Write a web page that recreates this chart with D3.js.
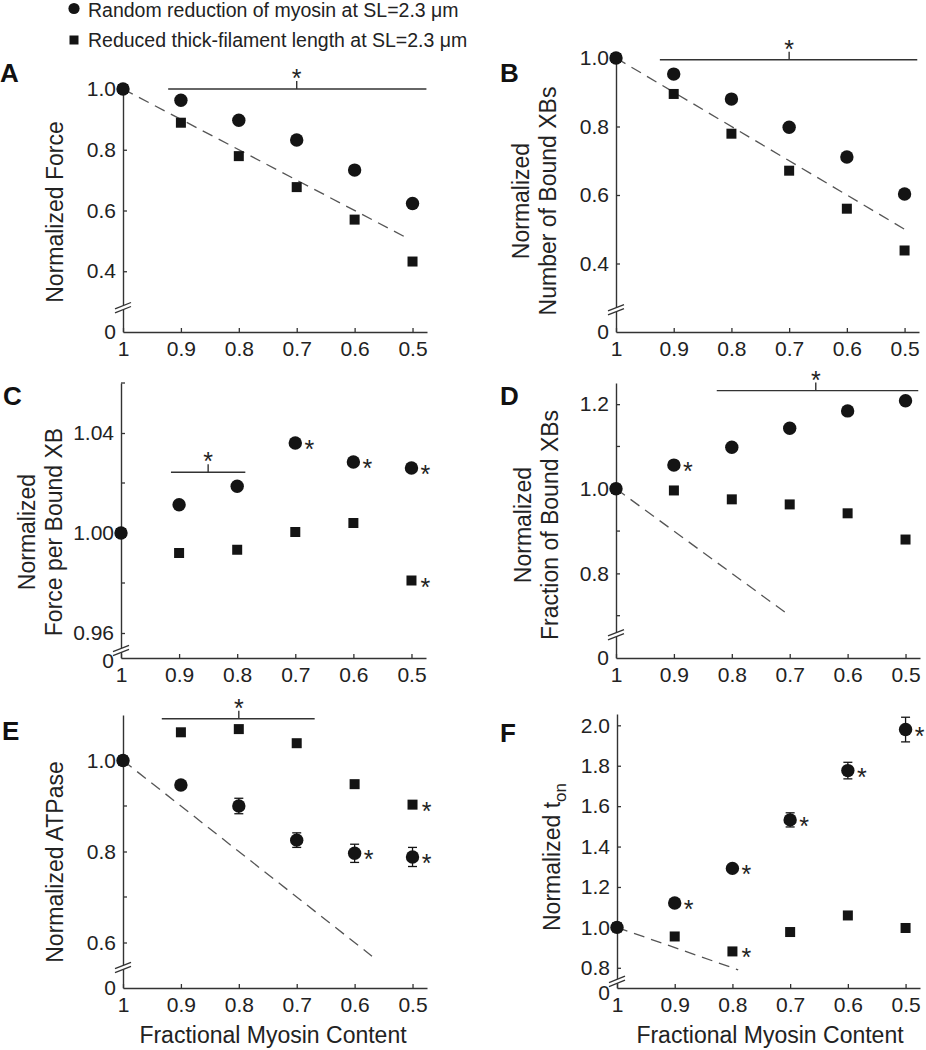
<!DOCTYPE html>
<html>
<head>
<meta charset="utf-8">
<script src="https://cdn.jsdelivr.net/npm/d3@7"></script>
<style>
  html, body { margin: 0; padding: 0; background: #fff; }
  svg { display: block; font-family: "Liberation Sans", Arial, Helvetica, sans-serif; }
</style>
</head>
<body>
<script>
// ---------------- DATA ----------------
const fractionalMyosin = [1, 0.9, 0.8, 0.7, 0.6, 0.5];
const xTickLabels = ["1", "0.9", "0.8", "0.7", "0.6", "0.5"];

const seriesNames = [
  "Random reduction of myosin at SL=2.3 \u03bcm",
  "Reduced thick-filament length at SL=2.3 \u03bcm"
];

// A: Normalized Force
const forceRandom  = [1.0, 0.963, 0.897, 0.832, 0.733, 0.623];
const forceReduced = [1.0, 0.889, 0.779, 0.677, 0.570, 0.432];
// B: Normalized Number of Bound XBs
const boundRandom  = [1.0, 0.953, 0.880, 0.798, 0.711, 0.603];
const boundReduced = [1.0, 0.895, 0.779, 0.671, 0.560, 0.438];
// C: Normalized Force per Bound XB
const forcePerXBRandom  = [1.0, 1.0113, 1.0187, 1.0360, 1.0284, 1.0260];
const forcePerXBReduced = [1.0, 0.9920, 0.9933, 1.0004, 1.0040, 0.9810];
// D: Normalized Fraction of Bound XBs
const fractionRandom  = [1.0, 1.056, 1.098, 1.143, 1.184, 1.208];
const fractionReduced = [1.0, 0.996, 0.975, 0.963, 0.942, 0.880];
// E: Normalized ATPase
const atpaseRandom    = [1.0, 0.946, 0.900, 0.825, 0.796, 0.788];
const atpaseRandomErr = [0, 0.004, 0.017, 0.016, 0.020, 0.021];
const atpaseReduced   = [1.0, 1.062, 1.069, 1.038, 0.948, 0.903];
// F: Normalized t_on
const tonRandom    = [1.0, 1.121, 1.292, 1.532, 1.776, 1.979];
const tonRandomErr = [0, 0.010, 0.010, 0.035, 0.041, 0.061];
const tonReduced   = [1.0, 0.955, 0.881, 0.977, 1.059, 0.997];

// y ticks
const ticksA = [0.4, 0.6, 0.8, 1.0];
const ticksB = [0.4, 0.6, 0.8, 1.0];
const ticksC = [0.96, 1.00, 1.04];
const minorC = [0.98, 1.02, 1.06];
const ticksD = [0.8, 1.0, 1.2];
const minorD = [0.7, 0.9, 1.1];
const ticksE = [0.6, 0.8, 1.0];
const minorE = [0.7, 0.9];
const ticksF = [0.8, 1.0, 1.2, 1.4, 1.6, 1.8, 2.0];

// proportional (y = x) reference line end points
const idealA = [1, 0.515];
const idealB = [1, 0.5];
const idealD = [1, 0.7];
const idealE = [1, 0.57];
const idealF = [1, 0.79];

// significance bars: [from x, to x, star x, y value]
const sigA = [0.922, 0.476, 0.7, 1.0];
const sigB = [0.924, 0.478, 0.7, 0.995];
const sigC = [0.914, 0.786, 0.85, 1.0243];
const sigD = [0.826, 0.478, 0.655, 1.232];
const sigE = [0.933, 0.669, 0.8, 1.0917];

// indices of points flagged with an individual asterisk
const starsCRandom = [3, 4, 5], starsCReduced = [5];
const starsDRandom = [1],       starsDReduced = [];
const starsERandom = [4, 5],    starsEReduced = [5];
const starsFRandom = [1, 2, 3, 4, 5], starsFReduced = [2];

// ---------------- PANELS (layout) ----------------
const panels = [
  { letter: "A", lx: 0, ly: 82, x0: 123, x1: 427, yb: 332, yt: 89, dom: [0.2, 1.0], brk: 0.28,
    ticks: ticksA, minor: [], fmt: ".1f", rnd: forceRandom, red: forceReduced,
    ideal: idealA, sig: sigA, sR: [], sQ: [], zOff: 0,
    label: ["Normalized Force"], labX: [63], labY: 212 },
  { letter: "B", lx: 500, ly: 82, x0: 616, x1: 919, yb: 332, yt: 58, dom: [0.2, 1.0], brk: 0.265,
    ticks: ticksB, minor: [], fmt: ".1f", rnd: boundRandom, red: boundReduced,
    ideal: idealB, sig: sigB, sR: [], sQ: [], zOff: 0,
    label: ["Normalized", "Number of Bound XBs"], labX: [529, 556], labY: 201 },
  { letter: "C", lx: 3, ly: 405, x0: 121, x1: 426, yb: 658, yt: 383, dom: [0.95, 1.06], brk: 0.953,
    ticks: ticksC, minor: minorC, fmt: ".2f", rnd: forcePerXBRandom, red: forcePerXBReduced,
    ideal: null, sig: sigC, sR: starsCRandom, sQ: starsCReduced, zOff: 3,
    label: ["Normalized", "Force per Bound XB"], labX: [35, 62], labY: 532 },
  { letter: "D", lx: 500, ly: 405, x0: 616, x1: 920, yb: 658, yt: 383, dom: [0.6, 1.25], brk: 0.655,
    ticks: ticksD, minor: minorD, fmt: ".1f", rnd: fractionRandom, red: fractionReduced,
    ideal: idealD, sig: sigD, sR: starsDRandom, sQ: starsDReduced, zOff: 0,
    label: ["Normalized", "Fraction of Bound XBs"], labX: [531, 558], labY: 525 },
  { letter: "E", lx: 2, ly: 740, x0: 123, x1: 427, yb: 988, yt: 715, dom: [0.5, 1.1], brk: 0.545,
    ticks: ticksE, minor: minorE, fmt: ".1f", rnd: atpaseRandom, err: atpaseRandomErr, red: atpaseReduced,
    ideal: idealE, sig: sigE, sR: starsERandom, sQ: starsEReduced, zOff: 0,
    label: ["Normalized ATPase"], labX: [63], labY: 862, xlab: 273 },
  { letter: "F", lx: 500, ly: 742, x0: 617, x1: 920, yb: 988, yt: 714, dom: [0.7, 2.056], brk: 0.733,
    ticks: ticksF, minor: [], fmt: ".1f", rnd: tonRandom, err: tonRandomErr, red: tonReduced,
    ideal: idealF, sig: null, sR: starsFRandom, sQ: starsFReduced, zOff: 5,
    label: ["ton"], labX: [560], labY: 857, xlab: 770, sub: true }
];

// ---------------- DRAW ----------------
const W = 926, H = 1050;
const ink = "#141414", axisCol = "#333", textCol = "#222";
const svg = d3.select("body").append("svg").attr("width", W).attr("height", H);

// legend
const leg = svg.append("g");
leg.append("circle").attr("cx", 74).attr("cy", 8.5).attr("r", 5.6).attr("fill", ink);
leg.append("rect").attr("x", 69.5).attr("y", 35.5).attr("width", 9).attr("height", 9).attr("fill", ink);
leg.selectAll("text.lg").data(seriesNames).join("text")
  .attr("x", 88).attr("y", (d, i) => 17 + i * 30)
  .attr("font-size", 19.5).attr("fill", textCol).text(d => d);

const starFS = 25, starDy = 0.56 * 25;

panels.forEach(p => {
  const g = svg.append("g");
  const x = d3.scaleLinear().domain([1, 0.475]).range([p.x0, p.x1]);
  const y = d3.scaleLinear().domain(p.dom).range([p.yb, p.yt]);

  // panel letter
  g.append("text").attr("x", p.lx).attr("y", p.ly).attr("font-size", 26)
    .attr("font-weight", "bold").attr("fill", "#111").text(p.letter);

  // x axis
  const xa = g.append("g").attr("transform", `translate(0,${p.yb})`)
    .call(d3.axisBottom(x).tickValues(fractionalMyosin)
      .tickFormat((d, i) => xTickLabels[i]).tickSize(-4).tickSizeOuter(0).tickPadding(9));
  // y axis
  const ya = g.append("g").attr("transform", `translate(${p.x0},0)`)
    .call(d3.axisLeft(y).tickValues(p.ticks).tickFormat(d3.format(p.fmt))
      .tickSize(-4).tickSizeOuter(0).tickPadding(7));
  [xa, ya].forEach(a => {
    a.select(".domain").attr("stroke", axisCol).attr("stroke-width", 1.4);
    a.selectAll(".tick line").attr("stroke", axisCol).attr("stroke-width", 1.3);
    a.selectAll(".tick text").attr("font-size", 21).attr("fill", textCol)
      .attr("font-family", "'Liberation Sans', Arial, sans-serif");
  });
  // minor ticks
  g.selectAll("line.minor").data(p.minor).join("line")
    .attr("x1", p.x0).attr("x2", p.x0 + 4).attr("y1", d => y(d)).attr("y2", d => y(d))
    .attr("stroke", axisCol).attr("stroke-width", 1.3);
  // zero label
  g.append("text").attr("x", p.x0 - 7).attr("y", p.yb + p.zOff).attr("dy", "0.32em")
    .attr("text-anchor", "end").attr("font-size", 21).attr("fill", textCol).text("0");
  // axis break
  const yb = y(p.brk);
  g.append("polygon")
    .attr("points", [[p.x0 - 7, yb + 5], [p.x0 + 7, yb - 1], [p.x0 + 7, yb - 5], [p.x0 - 7, yb + 1]].map(d => d.join(",")).join(" "))
    .attr("fill", "#fff");
  [-2, 2].forEach(o => {
    g.append("line").attr("x1", p.x0 - 8).attr("y1", yb + o + 3.2).attr("x2", p.x0 + 8).attr("y2", yb + o - 3.2)
      .attr("stroke", axisCol).attr("stroke-width", 1.3);
  });

  // y label
  const lab = g.append("g");
  if (p.sub) {
    const t = lab.append("text").attr("transform", `translate(${p.labX[0]},${p.labY}) rotate(-90)`)
      .attr("text-anchor", "middle").attr("font-size", 23).attr("fill", textCol);
    t.append("tspan").text("Normalized t");
    t.append("tspan").attr("dy", 6).attr("font-size", 17).text("on");
  } else {
    p.label.forEach((s, i) => {
      lab.append("text").attr("transform", `translate(${p.labX[i]},${p.labY}) rotate(-90)`)
        .attr("text-anchor", "middle").attr("font-size", 23).attr("fill", textCol).text(s);
    });
  }
  // x label
  if (p.xlab) {
    g.append("text").attr("x", p.xlab).attr("y", 1043).attr("text-anchor", "middle")
      .attr("font-size", 23).attr("fill", textCol).text("Fractional Myosin Content");
  }

  // ideal dashed line
  if (p.ideal) {
    g.append("line").attr("x1", x(p.ideal[0])).attr("y1", y(p.ideal[0]))
      .attr("x2", x(p.ideal[1])).attr("y2", y(p.ideal[1]))
      .attr("stroke", "#555").attr("stroke-width", 1.3).attr("stroke-dasharray", "11,7");
  }

  // significance bar
  if (p.sig) {
    const [a, b, c, v] = p.sig;
    g.append("line").attr("x1", x(a)).attr("x2", x(b)).attr("y1", y(v)).attr("y2", y(v))
      .attr("stroke", axisCol).attr("stroke-width", 1.4);
    g.append("line").attr("x1", x(c)).attr("x2", x(c)).attr("y1", y(v)).attr("y2", y(v) - 8)
      .attr("stroke", axisCol).attr("stroke-width", 1.4);
    g.append("text").attr("x", x(c)).attr("y", y(v) - 16 + starDy).attr("text-anchor", "middle")
      .attr("font-size", starFS).attr("fill", textCol).text("*");
  }

  // error bars
  if (p.err) {
    const eb = fractionalMyosin.map((f, i) => ({ f, v: p.rnd[i], e: p.err[i] })).filter(d => d.e > 0);
    eb.forEach(d => {
      g.append("line").attr("x1", x(d.f)).attr("x2", x(d.f)).attr("y1", y(d.v - d.e)).attr("y2", y(d.v + d.e))
        .attr("stroke", ink).attr("stroke-width", 1.3);
      [d.v - d.e, d.v + d.e].forEach(yy => {
        g.append("line").attr("x1", x(d.f) - 4.5).attr("x2", x(d.f) + 4.5).attr("y1", y(yy)).attr("y2", y(yy))
          .attr("stroke", ink).attr("stroke-width", 1.3);
      });
    });
  }

  // squares (reduced thick-filament length)
  g.selectAll("rect.sq").data(p.red).join("rect")
    .attr("x", (d, i) => x(fractionalMyosin[i]) - 5).attr("y", d => y(d) - 5)
    .attr("width", 10).attr("height", 10).attr("fill", ink);
  // circles (random reduction)
  g.selectAll("circle.ci").data(p.rnd).join("circle")
    .attr("cx", (d, i) => x(fractionalMyosin[i])).attr("cy", d => y(d))
    .attr("r", 6.7).attr("fill", ink);

  // individual asterisks
  const stars = p.sR.map(i => ({ i, v: p.rnd[i] })).concat(p.sQ.map(i => ({ i, v: p.red[i] })));
  stars.forEach(s => {
    g.append("text").attr("x", x(fractionalMyosin[s.i]) + 14).attr("y", y(s.v) + 1 + starDy)
      .attr("text-anchor", "middle").attr("font-size", starFS).attr("fill", textCol).text("*");
  });
});
</script>
</body>
</html>
